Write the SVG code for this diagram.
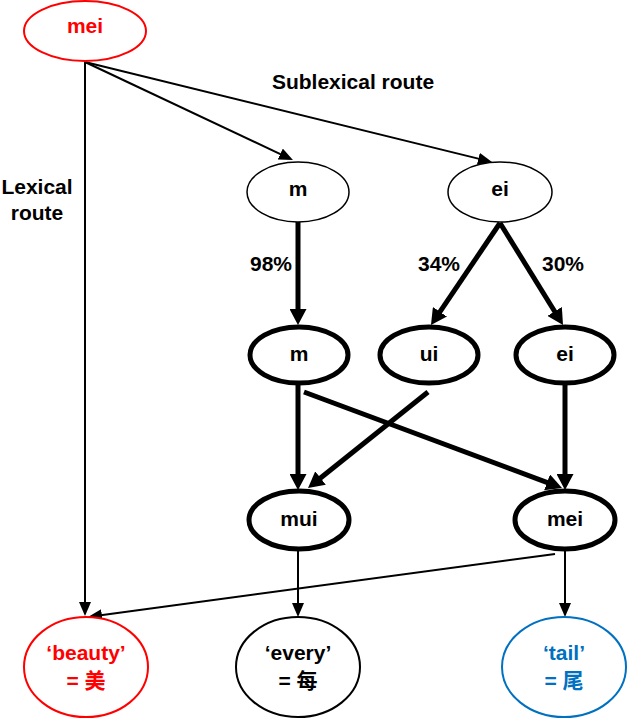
<svg xmlns="http://www.w3.org/2000/svg" width="627" height="721" viewBox="0 0 627 721">
<style>
text{font-family:"Liberation Sans","Noto Sans CJK SC",Arial,sans-serif;font-weight:bold;font-size:21px;text-anchor:middle;fill:#000}
.red{fill:#FF0000}
.blue{fill:#0070C0}
.thin{fill:#fff;stroke:#000;stroke-width:1.5}
.thick{fill:#fff;stroke:#000;stroke-width:5}
.e1{stroke:#000;stroke-width:2;fill:none;marker-end:url(#ah)}
.e2{stroke:#000;stroke-width:5;fill:none;marker-end:url(#ahb)}
</style>
<defs>
<marker id="ah" markerUnits="userSpaceOnUse" markerWidth="14" markerHeight="12" refX="3" refY="6" orient="auto"><path d="M0,0 L14,6 L0,12 z" fill="#000"/></marker>
<marker id="ahb" markerUnits="userSpaceOnUse" markerWidth="16" markerHeight="17" refX="4" refY="8.5" orient="auto"><path d="M0,0 L16,8.5 L0,17 z" fill="#000"/></marker>
</defs>
<rect width="627" height="721" fill="#fff"/>
<g id="connectors">
<path class="e1" d="M85,62 L283,155.3"/>
<path class="e1" d="M85,62 L481.3,159.4"/>
<path class="e1" d="M85,62 L85,605"/>
<path class="e1" d="M298,551 L298,606"/>
<path class="e1" d="M565,551 L565,606"/>
<path class="e1" d="M555,554 L98.9,615.5"/>
<path class="e2" d="M298,222 L298,313"/>
<path class="e2" d="M500,223 L437.7,315.1"/>
<path class="e2" d="M500,223 L556.7,314.8"/>
<path class="e2" d="M298,385 L298,478"/>
<path class="e2" d="M428,392 L317.4,480.5"/>
<path class="e2" d="M304,392 L550.8,483.8"/>
<path class="e2" d="M565,385 L565,478"/>
</g>
<g id="labels">
<text x="353" y="89">Sublexical route</text>
<text x="37" y="194">Lexical</text>
<text x="37" y="220">route</text>
<text x="271" y="271">98%</text>
<text x="439" y="271">34%</text>
<text x="563" y="271">30%</text>
</g>
<g id="n-mei-top"><ellipse cx="85" cy="31" rx="61" ry="30" fill="#fff" stroke="#FF0000" stroke-width="2"/><text class="red" x="85" y="33">mei</text></g>
<g id="n-m1"><ellipse class="thin" cx="298" cy="192" rx="51" ry="30"/><text x="298" y="196">m</text></g>
<g id="n-ei1"><ellipse class="thin" cx="500" cy="192" rx="52" ry="30"/><text x="500" y="196">ei</text></g>
<g id="n-m2"><ellipse class="thick" cx="299" cy="355" rx="49" ry="28"/><text x="299" y="361">m</text></g>
<g id="n-ui"><ellipse class="thick" cx="429" cy="355" rx="49" ry="28"/><text x="429" y="361">ui</text></g>
<g id="n-ei2"><ellipse class="thick" cx="565" cy="355" rx="49" ry="28"/><text x="565" y="361">ei</text></g>
<g id="n-mui"><ellipse class="thick" cx="299" cy="520" rx="50" ry="29"/><text x="299" y="526">mui</text></g>
<g id="n-mei"><ellipse class="thick" cx="565" cy="520" rx="50" ry="29"/><text x="565" y="526">mei</text></g>
<g id="n-beauty"><ellipse cx="86" cy="667" rx="62" ry="50" fill="#fff" stroke="#FF0000" stroke-width="2"/><text class="red" x="86" y="660">‘beauty’</text><text class="red" x="86" y="688">= 美</text></g>
<g id="n-every"><ellipse cx="298" cy="667" rx="62" ry="50" fill="#fff" stroke="#000" stroke-width="2"/><text x="298" y="660">‘every’</text><text x="298" y="688">= 每</text></g>
<g id="n-tail"><ellipse cx="564" cy="667" rx="62" ry="50" fill="#fff" stroke="#0070C0" stroke-width="2"/><text class="blue" x="564" y="660">‘tail’</text><text class="blue" x="564" y="688">= 尾</text></g>
</svg>
